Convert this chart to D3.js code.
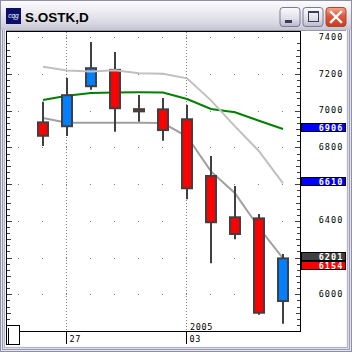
<!DOCTYPE html>
<html><head><meta charset="utf-8">
<script src="https://cdn.jsdelivr.net/npm/d3@7"></script>
<style>html,body{margin:0;padding:0;background:#fff;overflow:hidden}</style>
</head><body>
<script>
// ---- data ----
const title = "S.OSTK,D";
const dates = ["2004-12-23","2004-12-27","2004-12-28","2004-12-29","2004-12-30","2004-12-31",
               "2005-01-03","2005-01-04","2005-01-05","2005-01-06","2005-01-07"];
const open  = [6942, 6921, 7139, 7228, 7014, 7013, 6959, 6650, 6425, 6419, 5969];
const high  = [7055, 7184, 7380, 7325, 7091, 7075, 7037, 6759, 6595, 6443, 6225];
const low   = [6813, 6868, 7120, 6891, 6946, 6842, 6523, 6174, 6305, 5894, 5845];
const close = [6869, 7090, 7237, 7019, 7002, 6900, 6583, 6398, 6334, 5905, 6201];
const maGreen   = [7064, 7087, 7102, 7105, 7106, 7105, 7069, 7015, 6997, 6951, 6906];
const bandUpper = [7245, 7224, 7219, 7226, 7210, 7207, 7182, 7062, 6920, 6785, 6610];
const bandLower = [6966, 6940, 6940, 6940, 6940, 6938, 6865, 6675, 6556, 6368, 6201];
const yTicks = [7400, 7200, 7000, 6800, 6600, 6400, 6200, 6000];
const dateMarks = ["2004-12-27", "2005-01-03"];
const dateMarkLabels = ["27", "03"];
const yearMarks = ["", "2005"];
const tagValues = [6906, 6610, 6201, 6154];
const tagColors = ["#0000ff", "#0000ff", "#404040", "#ff0000"];

// ---- setup ----
const W = 352, H = 352;
const svg = d3.select("body").append("svg").attr("width", W).attr("height", H).style("display","block");
const defs = svg.append("defs");

function grad(id, stops) {
  const g = defs.append("linearGradient").attr("id", id).attr("x1",0).attr("y1",0).attr("x2",0).attr("y2",1);
  stops.forEach(s => g.append("stop").attr("offset", s[0]).attr("stop-color", s[1]));
}
grad("titleG", [[0,"#fdfdfe"],[0.35,"#eeeef3"],[0.8,"#d6d6e0"],[1,"#c4c4d2"]]);
grad("btnG", [[0,"#fbfbfd"],[0.6,"#dedee8"],[1,"#b8b8cc"]]);
grad("closeG", [[0,"#f4a890"],[0.45,"#e0583c"],[1,"#c83c20"]]);

// window frame
svg.append("rect").attr("width", W).attr("height", H).attr("fill", "#c8c8d6");
svg.append("rect").attr("x",0).attr("y",0).attr("width",W).attr("height",30).attr("fill","url(#titleG)");
svg.append("rect").attr("x",0.5).attr("y",0.5).attr("width",W-1).attr("height",H-1).attr("fill","none").attr("stroke","#8e8ea4");
[[1,"#e6e6ee"],[2,"#9a9ab2"],[3,"#dcdce6"],[4,"#b4b4c6"],[5,"#f4f4f8"]].forEach(([p,c]) => {
  svg.append("rect").attr("x",p).attr("y",30).attr("width",1).attr("height",H-30-p).attr("fill",c);
  svg.append("rect").attr("x",W-1-p).attr("y",30).attr("width",1).attr("height",H-30-p).attr("fill",c);
  svg.append("rect").attr("x",p).attr("y",H-1-p).attr("width",W-2*p).attr("height",1).attr("fill",c);
});
svg.append("rect").attr("x",6).attr("y",30).attr("width",340).attr("height",316).attr("fill","#ffffff");
svg.append("line").attr("x1",6).attr("x2",346).attr("y1",30.5).attr("y2",30.5).attr("stroke","#9898ac");

// title icon + text
svg.append("rect").attr("x",6).attr("y",8).attr("width",15).attr("height",16).attr("fill","#0c0f6a");
svg.append("text").attr("x",13.5).attr("y",17.5).attr("text-anchor","middle")
  .attr("font-family","Liberation Sans, Arial").attr("font-size",6.5).attr("font-style","italic")
  .attr("fill","#ffffff").text("cqg");
svg.append("text").attr("x",25).attr("y",21.5)
  .attr("font-family","Liberation Sans, Arial").attr("font-weight","bold").attr("font-size",13.5)
  .attr("fill","#000").text(title);

// buttons
function btn(x, fill, stroke) {
  svg.append("rect").attr("x",x+0.5).attr("y",7.5).attr("width",20).attr("height",19).attr("rx",3)
    .attr("fill",fill).attr("stroke",stroke);
}
btn(279.5, "url(#btnG)", "#7a7a92");
btn(302.5, "url(#btnG)", "#7a7a92");
btn(325.5, "url(#closeG)", "#a44a3a");
svg.append("rect").attr("x",285).attr("y",20).attr("width",7).attr("height",3).attr("fill","#3c3c5a");
svg.append("rect").attr("x",308.5).attr("y",11.5).attr("width",10).attr("height",10).attr("fill","none").attr("stroke","#3c3c5a");
svg.append("rect").attr("x",308).attr("y",11).attr("width",11).attr("height",2).attr("fill","#3c3c5a");
svg.append("path").attr("d","M331,12 L341,22 M341,12 L331,22").attr("stroke","#ffffff").attr("stroke-width",2.4).attr("stroke-linecap","square");

// ---- scales ----
const plotL = 6, plotR = 300, plotT = 31, plotB = 331;
const x = d3.scalePoint().domain(dates).range([43, 283]);
const step = x.step();
const y = d3.scaleLinear().domain([6000, 7400]).range([295.3, 38.3]);

const clip = defs.append("clipPath").attr("id","plotClip");
clip.append("rect").attr("x",plotL).attr("y",plotT).attr("width",plotR-plotL).attr("height",plotB-plotT);
const plot = svg.append("g").attr("clip-path","url(#plotClip)");

// grid dots
const cols = [x(dates[0]) - step].concat(dates.map(d => x(d)));
yTicks.forEach(v => {
  cols.forEach(c => {
    plot.append("rect").attr("x", Math.round(c)-1).attr("y", Math.round(y(v))-1)
      .attr("width",1).attr("height",1).attr("fill","#808080");
  });
});
dateMarks.forEach(d => {
  plot.append("line").attr("x1", x(d)-0.5).attr("x2", x(d)-0.5).attr("y1", plotT+1).attr("y2", plotB)
    .attr("stroke","#808080").attr("stroke-dasharray","1,2");
});

// edge ticks (6 per 200)
const minorStep = 200/6;
const tickVals = d3.range(-2, 48).map(k => 6000 - 200 + k*minorStep).filter(v => y(v) > plotT+1 && y(v) < plotB-1);
tickVals.forEach(v => {
  const k = Math.round((v - 5800)/minorStep);
  const len = (k % 6 === 0) ? 5 : (k % 3 === 0 ? 4 : 3);
  const yy = Math.round(y(v)) - 0.5;
  plot.append("line").attr("x1", plotL+1).attr("x2", plotL+1+len).attr("y1", yy).attr("y2", yy).attr("stroke","#404040");
  plot.append("line").attr("x1", plotR-len).attr("x2", plotR).attr("y1", yy).attr("y2", yy).attr("stroke","#404040");
});

// lines
const lineGen = d3.line().x((d,i) => x(dates[i])).y(d => y(d));
plot.append("path").attr("d", lineGen(bandLower)).attr("fill","none").attr("stroke","#a0a0a0").attr("stroke-width",2);
plot.append("path").attr("d", lineGen(maGreen)).attr("fill","none").attr("stroke","#008000").attr("stroke-width",2);

// candles
dates.forEach((d, i) => {
  const cx = x(d);
  const up = close[i] >= open[i];
  plot.append("line").attr("x1", cx).attr("x2", cx).attr("y1", y(high[i])).attr("y2", y(low[i]))
    .attr("stroke","#404040").attr("stroke-width",2);
  const top = y(Math.max(open[i], close[i])), bot = y(Math.min(open[i], close[i]));
  plot.append("rect").attr("x", cx-5).attr("y", top).attr("width", 10).attr("height", Math.max(bot-top, 0.5))
    .attr("fill", up ? "#0080ff" : "#ff0000").attr("stroke","#404040").attr("stroke-width",2);
});

plot.append("path").attr("d", lineGen(bandUpper)).attr("fill","none").attr("stroke","#c0c0c0").attr("stroke-width",2);

// plot frame
svg.append("line").attr("x1",plotL+0.5).attr("x2",plotL+0.5).attr("y1",plotT).attr("y2",plotB).attr("stroke","#000");
svg.append("line").attr("x1",plotL).attr("x2",plotR+1).attr("y1",plotT+0.5).attr("y2",plotT+0.5).attr("stroke","#000");
svg.append("line").attr("x1",plotR+0.5).attr("x2",plotR+0.5).attr("y1",plotT).attr("y2",plotB+1).attr("stroke","#000");
svg.append("line").attr("x1",plotL).attr("x2",plotR+1).attr("y1",plotB+0.5).attr("y2",plotB+0.5).attr("stroke","#000");

// bottom axis
const smallFont = "DejaVu Sans Mono, monospace";
svg.append("rect").attr("x",6.5).attr("y",325.5).attr("width",13).attr("height",19).attr("fill","#fff").attr("stroke","#000");
svg.append("line").attr("x1",8.5).attr("x2",8.5).attr("y1",328).attr("y2",344).attr("stroke","#000");
dateMarks.forEach((d, i) => {
  const xx = Math.round(x(d)) - 0.5;
  svg.append("line").attr("x1",xx).attr("x2",xx).attr("y1",plotB).attr("y2",344).attr("stroke","#000");
  svg.append("text").attr("x", xx+3).attr("y", 341.5).attr("font-family",smallFont).attr("font-size",8.5)
    .attr("letter-spacing",0.6).attr("fill","#000").text(dateMarkLabels[i]);
  if (yearMarks[i]) {
    svg.append("text").attr("x", xx+3.5).attr("y", 329.5).attr("font-family",smallFont).attr("font-size",8.5)
      .attr("letter-spacing",0.6).attr("fill","#000").text(yearMarks[i]);
  }
});

// right axis labels (those hidden behind a value tag are not drawn)
yTicks.filter(v => !tagValues.some(t => Math.abs(y(t) - y(v)) < 9)).forEach(v => {
  svg.append("text").attr("x", 343.5).attr("y", y(v) + 1.5).attr("text-anchor","end")
    .attr("font-family",smallFont).attr("font-size",8.5).attr("letter-spacing",1.1)
    .attr("fill","#000").text(d3.format("d")(v));
});

// value tags
tagValues.forEach((v, i) => {
  const t = Math.round(y(v) - 6.3);
  svg.append("rect").attr("x",301.5).attr("y",t+0.5).attr("width",44).attr("height",8)
    .attr("fill",tagColors[i]).attr("stroke","#000");
  svg.append("text").attr("x",343.5).attr("y",t+8).attr("text-anchor","end")
    .attr("font-family",smallFont).attr("font-size",8.5).attr("letter-spacing",1.1).attr("font-weight","bold")
    .attr("fill","#fff").text(d3.format("d")(v));
});
</script>
</body></html>
